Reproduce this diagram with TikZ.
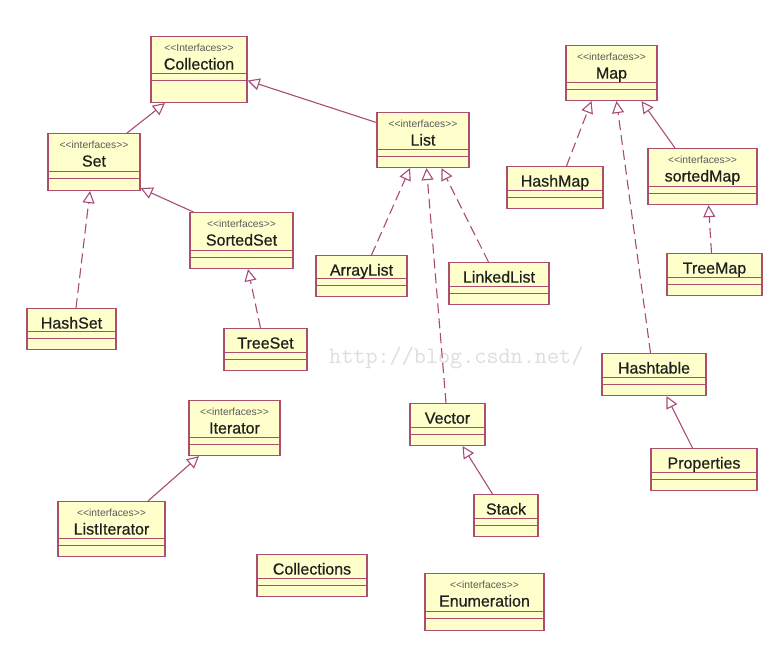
\documentclass[tikz,border=0pt]{standalone}
\usepackage{fontspec}
\setmainfont{Liberation Sans}
\newfontfamily\namefamily{Liberation Sans}[RawFeature={embolden=0.6}]
\usepackage{xcolor}
\usetikzlibrary{arrows.meta, positioning}

\definecolor{BoxFill}{RGB}{255,255,204}
\definecolor{BoxLine}{RGB}{172,78,108}
\definecolor{LinkLine}{RGB}{170,74,120}
\definecolor{StereoGray}{RGB}{90,90,90}
\definecolor{MarkGray}{RGB}{222,222,222}

\newcommand{\namefont}{\namefamily\fontsize{16}{18.5}\selectfont}
\newcommand{\stereo}[1]{{\rmfamily\fontsize{10.3}{11}\selectfont\color{StereoGray}<\kern0pt<#1>\kern0pt>}}

\begin{document}
\begin{tikzpicture}[x=1pt, y=-1pt,
    umlbox/.style={draw=BoxLine, fill=BoxFill, line width=1.1pt,
      anchor=north, inner sep=0pt, align=center, font=\namefont,
      text=black!88,
      lowpart=11pt,
      path picture={
        \draw[BoxLine, line width=1.1pt]
          ([yshift=\umlbot]path picture bounding box.south west)
          -- ([yshift=\umlbot]path picture bounding box.south east)
          ([yshift=\umlbot+7pt]path picture bounding box.south west)
          -- ([yshift=\umlbot+7pt]path picture bounding box.south east);
      }},
    lowpart/.code={\def\umlbot{#1}},
    iface/.style={umlbox, text height=33pt, text depth=23pt},
    cls/.style={umlbox, text height=20pt, text depth=22pt},
    extends/.style={LinkLine, line width=1.1pt,
      -{Triangle[open, length=12pt, width=12pt]}},
    implements/.style={extends, dash pattern=on 10pt off 5pt},
    watermark/.style={MarkGray, font=\fontsize{23.5}{26}\selectfont\ttfamily,
      anchor=base west, inner sep=0pt}
  ]

  % Canvas
  \useasboundingbox[fill=white] (0,0) rectangle (774,649);

  % Blog watermark
  \node[watermark] (mark) at (329,363) {http://blog.csdn.net/};

  % Collection side
  \node[iface, minimum width=96pt, text depth=33pt, lowpart=22pt]
        (collection) at (199,36) {\stereo{Interfaces}\\Collection};
  \node[iface, minimum width=92pt, text depth=24pt, lowpart=12pt]
        (set) at (94,133) {\stereo{interfaces}\\Set};
  \node[iface, minimum width=92pt, text depth=22pt]
        (list) at (423,112) {\stereo{interfaces}\\List};
  \node[iface, minimum width=103pt]
        (sortedset) at (241.5,212) {\stereo{interfaces}\\SortedSet};
  \node[cls, minimum width=89pt, text depth=21pt]
        (hashset) at (71.5,308) {HashSet};
  \node[cls, minimum width=83pt]
        (treeset) at (265.5,328) {TreeSet};
  \node[cls, minimum width=91pt, text depth=21pt]
        (arraylist) at (361.5,255) {ArrayList};
  \node[cls, minimum width=100pt]
        (linkedlist) at (499,262) {LinkedList};
  \node[cls, minimum width=75pt]
        (vector) at (447.5,403) {Vector};
  \node[cls, minimum width=64pt]
        (stack) at (506,494) {Stack};

  % Map side
  \node[iface, minimum width=91pt, text depth=22pt]
        (map) at (611.5,45) {\stereo{interfaces}\\Map};
  \node[cls, minimum width=96pt]
        (hashmap) at (555,166) {HashMap};
  \node[iface, minimum width=109pt]
        (sortedmap) at (702.5,148) {\stereo{interfaces}\\sortedMap};
  \node[cls, minimum width=95pt]
        (treemap) at (714.5,253) {TreeMap};
  \node[cls, minimum width=104pt]
        (hashtable) at (654,353) {Hashtable};
  \node[cls, minimum width=106pt]
        (properties) at (704,448) {Properties};

  % Iterators and helpers
  \node[iface, minimum width=91pt, text depth=22pt]
        (iterator) at (234.5,400) {\stereo{interfaces}\\Iterator};
  \node[iface, minimum width=107pt, text depth=22pt]
        (listiterator) at (111.5,501) {\stereo{interfaces}\\ListIterator};
  \node[cls, minimum width=110pt]
        (collections) at (312,554) {Collections};
  \node[iface, minimum width=119pt, text depth=24pt, lowpart=12pt]
        (enumeration) at (484.5,573) {\stereo{interfaces}\\Enumeration};

  % Generalisation links
  \draw[extends] ([xshift=33pt]set.north) -- ([xshift=-34pt]collection.south);
  \draw[extends] ([yshift=17.5pt]list.west) -- ([yshift=-11pt]collection.east);
  \draw[extends] ([xshift=4pt]sortedset.north west) -- ([yshift=3pt]set.south east);
  \draw[extends] ([xshift=-27.5pt]sortedmap.north) -- ([xshift=30pt]map.south);
  \draw[extends] ([xshift=-11.5pt]properties.north) -- ([xshift=12.5pt]hashtable.south);
  \draw[extends] ([xshift=-13.5pt]stack.north) -- ([xshift=15pt]vector.south);
  \draw[extends] ([xshift=36.5pt]listiterator.north) -- ([xshift=-35.5pt]iterator.south);

  % Realisation links
  \draw[implements] ([xshift=4.5pt]hashset.north) -- ([xshift=-4pt]set.south);
  \draw[implements] ([xshift=-5pt]treeset.north) -- ([xshift=6.5pt]sortedset.south);
  \draw[implements] ([xshift=10pt]arraylist.north) -- ([xshift=-13pt]list.south);
  \draw[implements] ([xshift=-1.5pt]vector.north) -- ([xshift=3.5pt]list.south);
  \draw[implements] ([xshift=-10.5pt]linkedlist.north) -- ([xshift=18.5pt]list.south);
  \draw[implements] ([xshift=11.5pt]hashmap.north) -- ([xshift=-20pt]map.south);
  \draw[implements] ([xshift=-3.5pt]hashtable.north) -- ([xshift=5pt]map.south);
  \draw[implements] ([xshift=-3pt]treemap.north) -- ([xshift=6pt]sortedmap.south);

\end{tikzpicture}
\end{document}
